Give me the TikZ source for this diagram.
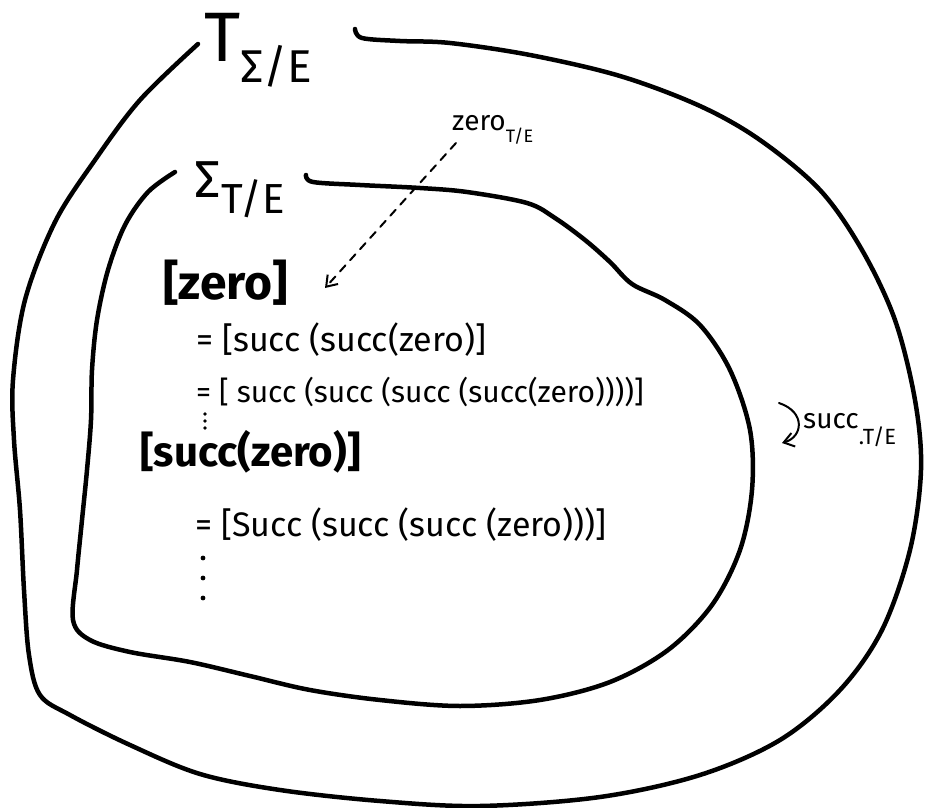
\documentclass[tikz,border=0pt]{standalone}
\usepackage{fontspec}
\setmainfont{Fira Sans}
\usetikzlibrary{arrows.meta}

\tikzset{
  blob/.style={line width=4.5pt,line cap=round,line join=round},
  setlbl/.style={inner sep=0pt},
  classlbl/.style={inner sep=0pt,anchor=west,font=\fontsize{48}{52}\selectfont\bfseries},
  eqline/.style={inner sep=0pt,anchor=west,font=\fontsize{34}{38}\selectfont},
  oplbl/.style={inner sep=0pt,anchor=west,font=\fontsize{28}{30}\selectfont},
  handarrow/.style={line width=2pt,line cap=round,-{Straight Barb[length=10pt,width=14pt]}},
}

\begin{document}
\begin{tikzpicture}[x=1pt,y=-1pt]
\useasboundingbox (0,0) rectangle (930,808);

% outer set
\draw[blob] plot[smooth,tension=0.55] coordinates {(355,29) (362,38) (400,41) (450,43) (530,55)
  (620,76) (700,106) (760,140) (820,190) (862,250) (895,320) (915,400) (921,470) (910,550)
  (882,630) (840,690) (780,740) (700,775) (600,797) (480,806) (380,801) (280,790) (200,774)
  (130,745) (70,715) (40,695) (29,655) (24,590) (20,510) (14,440) (13,380) (25,300) (55,222)
  (95,160) (140,100) (198,44)};

% inner set
\draw[blob] plot[smooth,tension=0.55] coordinates {(306,175) (313,182) (360,185) (420,188)
  (467,192) (527,203) (555,218) (585,240) (610,262) (632,284) (665,300) (700,325) (730,370)
  (750,430) (752,490) (740,550) (712,605) (668,650) (610,682) (540,700) (460,706) (380,700)
  (310,690) (250,676) (190,662) (130,652) (90,640) (73,620) (77,570) (82,520) (87,470)
  (91,420) (92,370) (97,320) (108,270) (125,225) (148,192) (175,172)};

% set labels
\node[setlbl,font=\fontsize{70}{74}\selectfont] (outerlbl) at (258,50)
  {T\raisebox{-0.3em}{\fontsize{46}{48}\selectfont Σ/E}};
\node[setlbl,font=\fontsize{52}{56}\selectfont] (innerlbl) at (240,190)
  {Σ\raisebox{-0.3em}{\fontsize{42}{44}\selectfont T/E}};

% equivalence classes
\node[classlbl] (zeroclass) at (163,283) {[zero]};
\node[eqline] (eqA) at (196,340) {= [succ (succ(zero)]};
\node[eqline,font=\fontsize{30}{34}\selectfont] (eqB) at (196,392) {= [ succ (succ (succ (succ(zero))))]};
\node[classlbl,font=\fontsize{42}{46}\selectfont\bfseries] (succclass) at (140,452) {[succ(zero)]};
\node[eqline] (eqC) at (195,525) {= [Succ (succ (succ (zero)))]};
\foreach \y in {414,421,428} \fill (205,\y) circle (1.8pt);
\foreach \y in {558,578,598} \fill (203,\y) circle (2.4pt);

% operations
\node[oplbl] (zerolbl) at (452,130) {zero\raisebox{-0.45em}{\fontsize{18}{20}\selectfont T/E}};
\coordinate (zerotip) at (325,288);
\draw[handarrow,dashed,dash pattern=on 8pt off 7pt] ([xshift=4pt,yshift=2pt]zerolbl.south west) -- (zerotip);

\node[oplbl] (succlbl) at (803,430) {succ\raisebox{-0.6em}{\fontsize{22}{24}\selectfont .T/E}};
\coordinate (succtop) at (779,403);
\coordinate (succend) at (782,443);
\draw[handarrow] (succtop) .. controls (806,412) and (803,437) .. (succend);
\end{tikzpicture}
\end{document}
